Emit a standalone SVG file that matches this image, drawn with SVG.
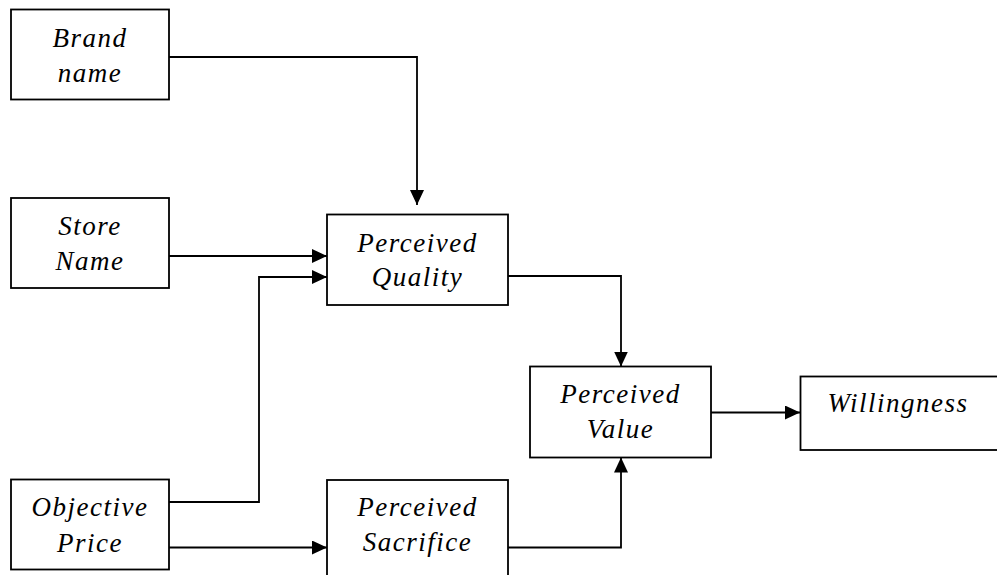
<svg xmlns="http://www.w3.org/2000/svg" width="997" height="575" viewBox="0 0 997 575">
<style>
.box{fill:#fff;stroke:#000;stroke-width:1.8}
.t{font-family:"Liberation Serif","Times New Roman",serif;font-style:italic;font-size:27px;letter-spacing:1.5px;text-anchor:middle;fill:#000}
.c{fill:none;stroke:#000;stroke-width:1.8}
</style>
<defs>
<marker id="ah" markerUnits="userSpaceOnUse" markerWidth="16" markerHeight="14" viewBox="0 0 16 14" refX="15" refY="7" orient="auto">
<path d="M0,0 L15,7 L0,14 Z" fill="#000"/>
</marker>
</defs>
<rect width="997" height="575" fill="#fff"/>
<g id="connectors">
<path class="c" d="M169,57 H417 V205" marker-end="url(#ah)"/>
<path class="c" d="M169,256 H327" marker-end="url(#ah)"/>
<path class="c" d="M169,502 H259 V277 H327" marker-end="url(#ah)"/>
<path class="c" d="M169,547.5 H327" marker-end="url(#ah)"/>
<path class="c" d="M508,276 H621 V366.5" marker-end="url(#ah)"/>
<path class="c" d="M508,547.5 H621 V457.5" marker-end="url(#ah)"/>
<path class="c" d="M711,412.5 H800" marker-end="url(#ah)"/>
</g>
<g id="brand">
<rect class="box" x="11" y="9.5" width="158" height="90"/>
<text class="t" x="90" y="47">Brand</text>
<text class="t" x="90" y="82">name</text>
</g>
<g id="store">
<rect class="box" x="11" y="198" width="158" height="90"/>
<text class="t" x="90" y="235">Store</text>
<text class="t" x="90" y="270">Name</text>
</g>
<g id="objective">
<rect class="box" x="11" y="479.5" width="158" height="90"/>
<text class="t" x="90" y="516">Objective</text>
<text class="t" x="90" y="551.5">Price</text>
</g>
<g id="quality">
<rect class="box" x="327" y="214.5" width="181" height="90.5"/>
<text class="t" x="417.5" y="251.5">Perceived</text>
<text class="t" x="417.5" y="286">Quality</text>
</g>
<g id="sacrifice">
<rect class="box" x="327" y="480" width="181" height="120"/>
<text class="t" x="417.5" y="516">Perceived</text>
<text class="t" x="417.5" y="551">Sacrifice</text>
</g>
<g id="value">
<rect class="box" x="530" y="366.5" width="181" height="91"/>
<text class="t" x="620.5" y="403">Perceived</text>
<text class="t" x="620.5" y="438">Value</text>
</g>
<g id="willingness">
<rect class="box" x="800.5" y="376.5" width="220" height="73.5"/>
<text class="t" x="898" y="412">Willingness</text>
</g>
</svg>
